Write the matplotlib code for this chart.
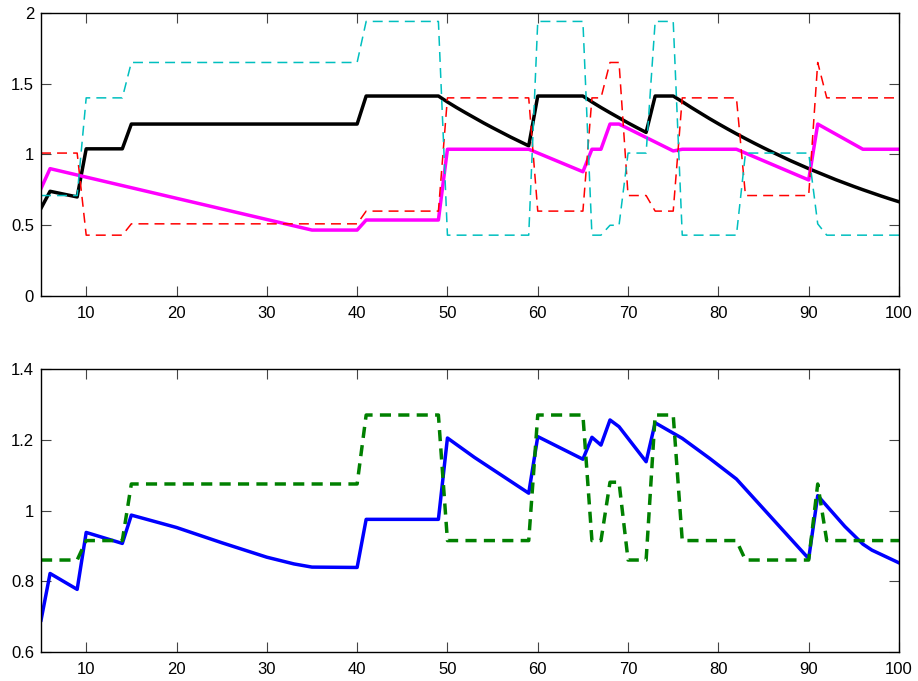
import numpy as np
import matplotlib
matplotlib.use('Agg')
import matplotlib.pyplot as plt

plt.rcParams['font.family'] = ['Liberation Sans', 'DejaVu Sans']

# top panel
black_x = [5, 6, 9, 10, 14, 15, 40, 41, 49, 50, 51, 52, 53, 54, 55, 56, 57, 58, 59,
           60, 65, 66, 67, 68, 69, 70, 71, 72, 73, 75,
           76, 77, 78, 79, 80, 81, 82, 83, 84, 85, 86, 87, 88, 89, 90,
           91, 92, 93, 94, 95, 96, 97, 98, 99, 100]
black_y = [0.62, 0.74, 0.70, 1.04, 1.04, 1.215, 1.215, 1.413, 1.413,
           1.371, 1.332, 1.295, 1.259, 1.223, 1.189, 1.156, 1.123, 1.092, 1.061,
           1.413, 1.413, 1.371, 1.332, 1.295, 1.259, 1.223, 1.189, 1.156, 1.413, 1.413,
           1.373, 1.332, 1.293, 1.254, 1.217, 1.181, 1.146, 1.112, 1.079, 1.047,
           1.016, 0.986, 0.956, 0.928, 0.900,
           0.874, 0.848, 0.822, 0.798, 0.774, 0.751, 0.729, 0.707, 0.686, 0.666]

mag_x = [5, 6, 35, 40, 41, 49, 50, 59, 65, 66, 67, 68, 69, 75, 76, 82, 90, 91, 96, 100]
mag_y = [0.76, 0.90, 0.466, 0.466, 0.537, 0.537, 1.037, 1.037, 0.878, 1.037, 1.037, 1.215,
         1.215, 1.025, 1.037, 1.037, 0.82, 1.215, 1.037, 1.037]

step_x = [5, 9, 10, 14, 15, 40, 41, 49, 50, 59, 60, 65, 66, 67, 68, 69, 70, 72, 73, 75,
          76, 82, 83, 90, 91, 92, 100]
red_y = [1.01, 1.01, 0.43, 0.43, 0.51, 0.51, 0.60, 0.60, 1.40, 1.40, 0.60, 0.60, 1.40, 1.40,
         1.65, 1.65, 0.71, 0.71, 0.60, 0.60, 1.40, 1.40, 0.71, 0.71, 1.65, 1.40, 1.40]
cyan_y = [0.71, 0.71, 1.40, 1.40, 1.65, 1.65, 1.94, 1.94, 0.43, 0.43, 1.94, 1.94, 0.43, 0.43,
          0.50, 0.50, 1.01, 1.01, 1.94, 1.94, 0.43, 0.43, 1.01, 1.01, 0.51, 0.43, 0.43]

# bottom panel
blue_x = [5, 6, 9, 10, 14, 15, 20, 25, 30, 33, 35, 40, 41, 49, 50, 53, 59, 60, 65, 66, 67,
          68, 69, 72, 73, 76, 79, 82, 90, 91, 94, 96, 97, 100]
blue_y = [0.69, 0.822, 0.777, 0.938, 0.907, 0.987, 0.952, 0.909, 0.868, 0.849, 0.840, 0.839,
          0.975, 0.975, 1.205, 1.150, 1.049, 1.209, 1.145, 1.207, 1.185, 1.256, 1.237, 1.138,
          1.248, 1.204, 1.148, 1.089, 0.864, 1.042, 0.955, 0.905, 0.888, 0.852]
green_y = [0.86, 0.86, 0.915, 0.915, 1.075, 1.075, 1.27, 1.27, 0.915, 0.915, 1.27, 1.27,
           0.915, 0.915, 1.08, 1.08, 0.86, 0.86, 1.27, 1.27, 0.915, 0.915, 0.86, 0.86,
           1.075, 0.915, 0.915]

fig = plt.figure(figsize=(9.18, 6.81), dpi=100)
ax1 = fig.add_axes([0.0447, 0.5653, 0.9346, 0.4157])
ax2 = fig.add_axes([0.0447, 0.0426, 0.9346, 0.4155])

ax1.plot(black_x, black_y, color='k', lw=2.5, solid_joinstyle='round')
ax1.plot(mag_x, mag_y, color='#ff00ff', lw=2.5, solid_joinstyle='round')
ax1.plot(step_x, red_y, color='r', lw=1.1, dashes=(6.5, 4))
ax1.plot(step_x, cyan_y, color='#00bfbf', lw=1.1, dashes=(6.5, 4))
ax1.set_ylim(0, 2)
ax1.set_yticks([0, 0.5, 1, 1.5, 2])
ax1.set_yticklabels(['0', '0.5', '1', '1.5', '2'])

ax2.plot(blue_x, blue_y, color='#0000ff', lw=2.5, solid_joinstyle='round')
ax2.plot(step_x, green_y, color='#008000', lw=2.5, dashes=(3.2, 2.1))
ax2.set_ylim(0.6, 1.4)
ax2.set_yticks([0.6, 0.8, 1.0, 1.2, 1.4])
ax2.set_yticklabels(['0.6', '0.8', '1', '1.2', '1.4'])

for ax in (ax1, ax2):
    ax.set_xlim(5, 100)
    ax.set_xticks(np.arange(10, 101, 10))
    ax.tick_params(direction='in', top=True, right=True, length=7, width=0.8,
                   color='#444444', labelsize=12)
    ax.tick_params(axis='x', pad=7)
    ax.tick_params(axis='y', pad=5)
    for s in ax.spines.values():
        s.set_linewidth(1.0)

fig.savefig('out.png', dpi=100)
